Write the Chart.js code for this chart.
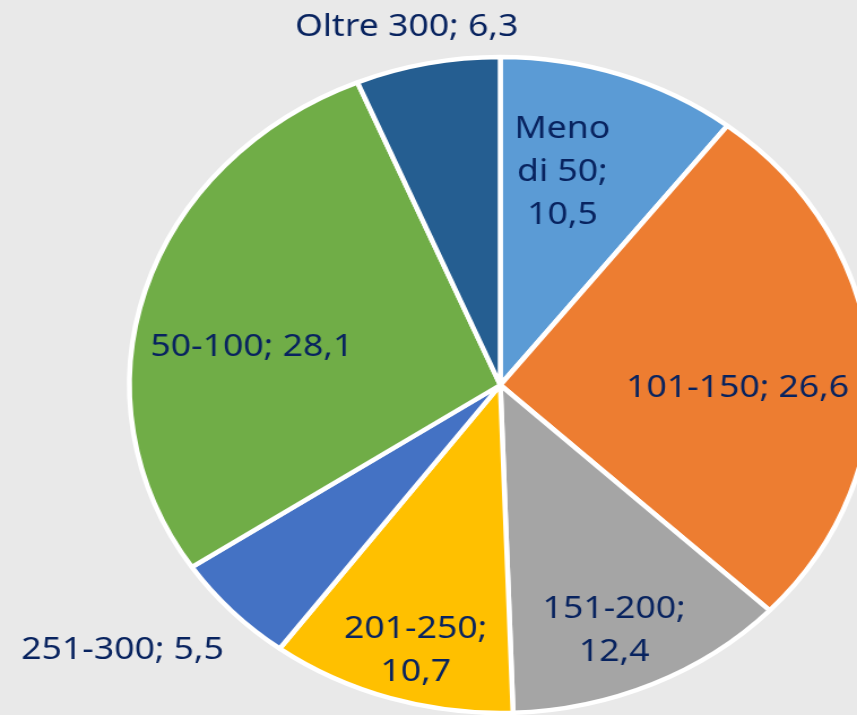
<!DOCTYPE html>
<html>
<head>
<meta charset="utf-8">
<script src="https://cdn.jsdelivr.net/npm/chart.js@4/dist/chart.umd.min.js"></script>
<style>
  html, body { margin: 0; padding: 0; overflow: hidden; }
  body { width: 857px; height: 715px; background: #e9e9e9; }
  #wrap { width: 758px; height: 715px; transform: scale(1.1306, 1); transform-origin: 0 0; }
</style>
</head>
<body>
<div id="wrap"><canvas id="torta" width="758" height="715"></canvas></div>
<script>
//--Dati----------------------------
var categorie = ['Meno di 50', '101-150', '151-200', '201-250', '251-300', '50-100', 'Oltre 300'];
var valori = [10.5, 26.6, 12.4, 10.7, 5.5, 28.1, 6.3];
var colori = ['#5b9bd5', '#ed7d31', '#a5a5a5', '#ffc000', '#4472c4', '#70ad47', '#255e91'];

//--Posizione etichette (frazione del raggio, scarto angolare in gradi)----
var etichettaRaggio = [0.67, 0.64, 0.81, 0.84, 1.30, 0.68, 1.12];
var etichettaScarto = [-4.4, 5.3, 2, -1.5, 5.2, -7, -1.7];
// 0 = una riga, 1 = "nome;" / valore, 2 = prima parola / resto; / valore
var etichettaA_capo = [2, 0, 1, 1, 0, 0, 0];

function righeEtichetta(i) {
    var v = valori[i].toFixed(1).replace('.', ',');
    var nome = categorie[i];
    if (etichettaA_capo[i] == 1) return [nome + ';', v];
    if (etichettaA_capo[i] == 2) {
        var p = nome.split(' ');
        return [p[0], p.slice(1).join(' ') + ';', v];
    }
    return [nome + '; ' + v];
}

var pluginEtichette = {
    id: 'etichette',
    afterDatasetsDraw: function(chart) {
        var ctx = chart.ctx;
        var meta = chart.getDatasetMeta(0);
        ctx.save();
        ctx.font = '31.5px "Noto Sans"';
        ctx.fillStyle = '#08235f';
        ctx.textAlign = 'center';
        ctx.textBaseline = 'middle';
        meta.data.forEach(function(arc, i) {
            var p = arc.getProps(['x', 'y', 'startAngle', 'endAngle', 'outerRadius'], true);
            var a = (p.startAngle + p.endAngle) / 2 + etichettaScarto[i] * Math.PI / 180;
            var r = p.outerRadius * etichettaRaggio[i];
            var cx = p.x + Math.cos(a) * r;
            var cy = p.y + Math.sin(a) * r;
            var righe = righeEtichetta(i);
            var h = 43;
            righe.forEach(function(t, k) {
                ctx.fillText(t, cx, cy + (k - (righe.length - 1) / 2) * h);
            });
        });
        ctx.restore();
    }
};

var ctx = document.getElementById('torta').getContext('2d');
var grafico = new Chart(ctx, {
    type: 'pie',
    data: {
        labels: categorie,
        datasets: [{
            data: valori,
            backgroundColor: colori,
            borderColor: '#ffffff',
            borderWidth: 4.5,
            clip: false
        }]
    },
    options: {
        responsive: false,
        animation: false,
        radius: 328,
        layout: { padding: { left: 127, right: 0, top: 55, bottom: 0 } },
        plugins: {
            legend: { display: false },
            tooltip: { enabled: false }
        }
    },
    plugins: [pluginEtichette]
});
</script>
</body>
</html>
